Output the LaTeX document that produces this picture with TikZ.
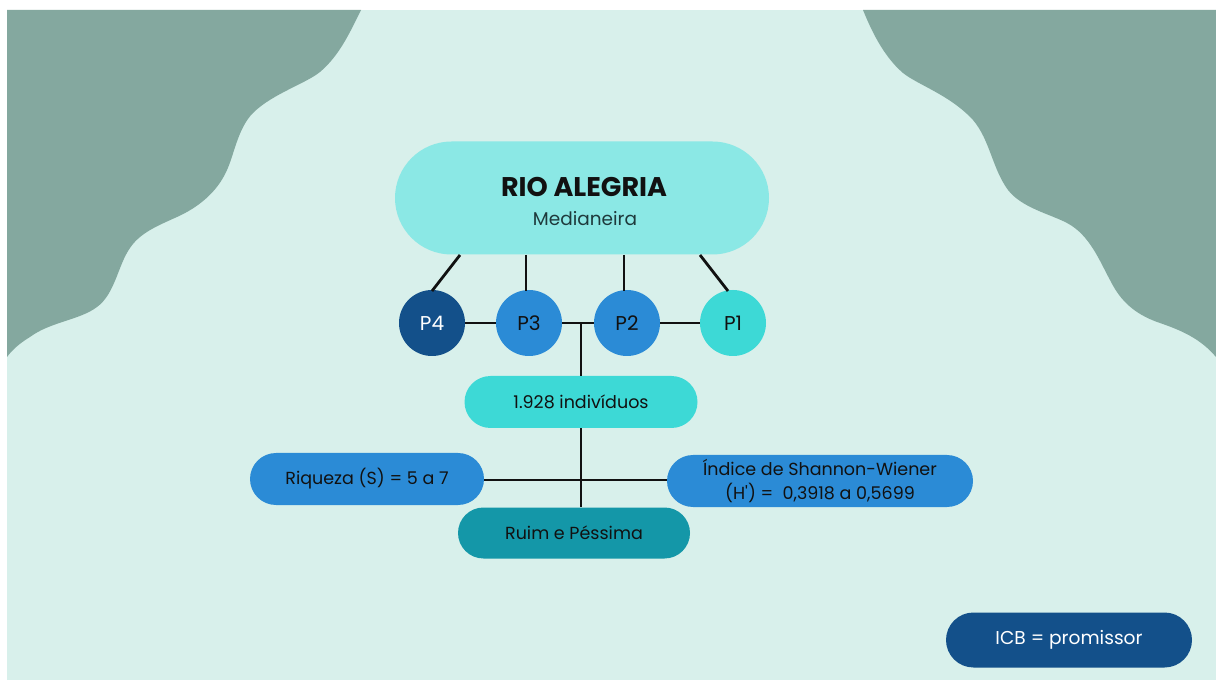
\documentclass[tikz,border=0pt]{standalone}
\usepackage{fontspec}
\setmainfont{Poppins}
\usetikzlibrary{shapes.geometric,shapes.misc}
\definecolor{bgpale}{HTML}{D8F0EB}
\definecolor{sage}{HTML}{84A89F}
\definecolor{aqua}{HTML}{8BE8E5}
\definecolor{turq}{HTML}{3DD9D6}
\definecolor{midblue}{HTML}{2B8BD6}
\definecolor{navy}{HTML}{13508A}
\definecolor{teal}{HTML}{1497A8}
\definecolor{ink}{HTML}{111111}
\definecolor{subink}{HTML}{1E3A3C}
\tikzset{
  pill/.style={rounded rectangle, draw=none, align=center, inner sep=0pt, text=ink},
  dot/.style={circle, draw=none, minimum size=66pt, inner sep=0pt, font=\fontsize{20}{24}\selectfont},
  link/.style={line width=2.8pt, draw=ink},
  boxtext/.style={font=\fontsize{17.5}{24}\selectfont}
}
\begin{document}
\begin{tikzpicture}[x=1pt,y=-1pt]
\useasboundingbox (0,0) rectangle (1216,684);
\fill[white] (0,0) rectangle (1216,684);
\fill[bgpale] (7,10) rectangle (1216,680);
% wavy corner shapes
\fill[sage] (7,10) -- (361,10)
  .. controls (350,32) and (340,55) .. (320,72)
  .. controls (305,84) and (272,94) .. (253,113)
  .. controls (238,128) and (234,155) .. (227,170)
  .. controls (217,193) and (197,208) .. (177,217)
  .. controls (157,226) and (140,233) .. (130,248)
  .. controls (118,265) and (115,294) .. (97,307)
  .. controls (80,320) and (50,322) .. (30,337)
  .. controls (20,343) and (12,350) .. (7,357) -- cycle;
\fill[sage] (1216,10) -- (863,10)
  .. controls (870,27) and (882,55) .. (903,73)
  .. controls (918,85) and (950,95) .. (973,120)
  .. controls (990,140) and (992,168) .. (1008,190)
  .. controls (1022,208) and (1050,214) .. (1067,223)
  .. controls (1090,235) and (1100,262) .. (1110,280)
  .. controls (1118,296) and (1130,313) .. (1160,323)
  .. controls (1180,330) and (1200,338) .. (1216,357) -- cycle;

% top river node
\node[pill, fill=aqua, minimum width=374pt, minimum height=113pt] (rio) at (582,198) {};
\node[font=\fontsize{27}{30}\selectfont\bfseries, text=ink] (rioT) at (584,187) {RIO ALEGRIA};
\node[font=\fontsize{18.5}{22}\selectfont, text=subink] (rioS) at (585,219) {Medianeira};

% sampling points
\node[dot, fill=navy, text=white] (p4) at (432,323) {P4};
\node[dot, fill=midblue, text=ink] (p3) at (529,323) {P3};
\node[dot, fill=midblue, text=ink] (p2) at (627,323) {P2};
\node[dot, fill=turq, text=ink] (p1) at (733,323) {P1};

\coordinate (a4) at (460,255);
\coordinate (b4) at (432,291);
\coordinate (a3) at (526,255);
\coordinate (b3) at (526,291);
\coordinate (a2) at (624,255);
\coordinate (b2) at (624,291);
\coordinate (a1) at (700,255);
\coordinate (b1) at (728,291);
\draw[link] (a4) -- (b4);
\draw[link] (a3) -- (b3);
\draw[link] (a2) -- (b2);
\draw[link] (a1) -- (b1);

\draw[link] (p4) -- (p3);
\draw[link] (p3) -- (p2);
\draw[link] (p2) -- (p1);

% summary boxes
\node[pill, fill=turq, minimum width=233pt, minimum height=52pt, boxtext] (ind) at (581,402) {1.928 indivíduos};
\node[pill, fill=midblue, minimum width=234pt, minimum height=52pt, boxtext] (riq) at (367,479) {Riqueza (S) = 5 a 7};
\node[pill, fill=midblue, minimum width=306pt, minimum height=52pt, boxtext] (shw) at (820,481) {Índice de Shannon-Wiener\\(H\textquotesingle) =\ \ 0,3918 a 0,5699};
\node[pill, fill=teal, minimum width=232pt, minimum height=51pt, boxtext] (ruim) at (574,533) {Ruim e Péssima};

\coordinate (j1) at (581,323);
\coordinate (j2) at (581,480);
\draw[link] (j1) -- (ind.north -| j1);
\draw[link] (ind.south -| j1) -- (ruim.north -| j1);
\draw[link] (riq.east |- j2) -- (shw.west |- j2);

% verdict
\node[pill, fill=navy, text=white, minimum width=246pt, minimum height=55pt, font=\fontsize{18.6}{22}\selectfont] (icb) at (1069,640) {ICB = promissor};
\end{tikzpicture}
\end{document}
